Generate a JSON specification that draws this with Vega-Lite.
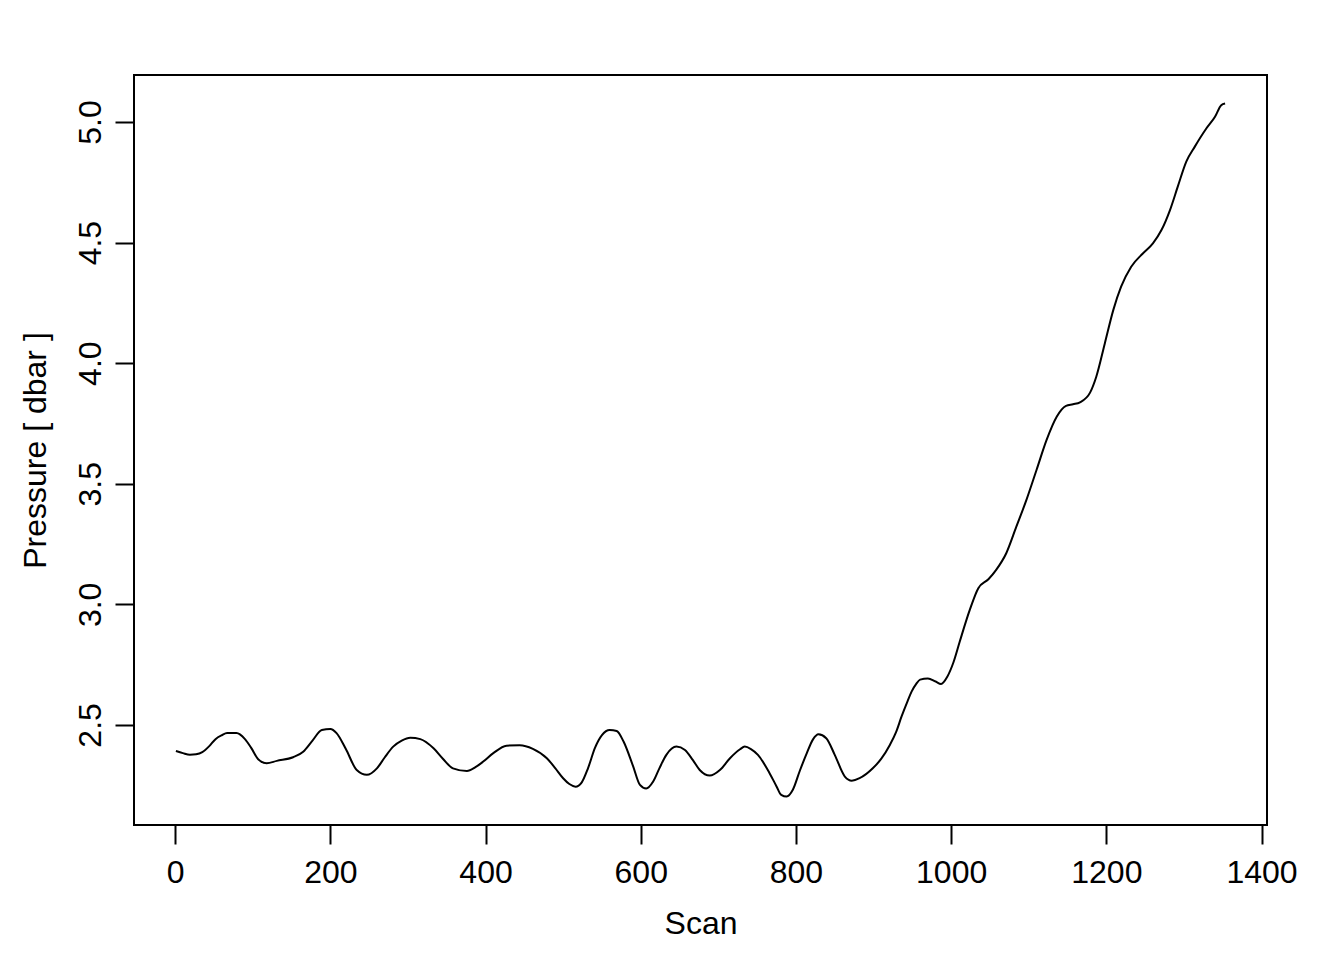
{
  "$schema": "https://vega.github.io/schema/vega-lite/v6.json",
  "autosize": {"type": "none"},
  "width": 1133,
  "height": 750,
  "padding": {"left": 134, "top": 75, "right": 77, "bottom": 135},
  "background": "white",
  "config": {
    "font": "Liberation Sans",
    "view": {"stroke": "black", "strokeWidth": 2}
  },
  "data": {"values": [
    {"scan": 1, "pressure": 2.392},
    {"scan": 10, "pressure": 2.383},
    {"scan": 19, "pressure": 2.376},
    {"scan": 27, "pressure": 2.378},
    {"scan": 35, "pressure": 2.387},
    {"scan": 44, "pressure": 2.412},
    {"scan": 52, "pressure": 2.441},
    {"scan": 60, "pressure": 2.457},
    {"scan": 67, "pressure": 2.466},
    {"scan": 79, "pressure": 2.466},
    {"scan": 90, "pressure": 2.441},
    {"scan": 98, "pressure": 2.405},
    {"scan": 107, "pressure": 2.358},
    {"scan": 118, "pressure": 2.341},
    {"scan": 131, "pressure": 2.351},
    {"scan": 152, "pressure": 2.366},
    {"scan": 165, "pressure": 2.389},
    {"scan": 177, "pressure": 2.435},
    {"scan": 189, "pressure": 2.479},
    {"scan": 200, "pressure": 2.483},
    {"scan": 208, "pressure": 2.466},
    {"scan": 220, "pressure": 2.4},
    {"scan": 234, "pressure": 2.313},
    {"scan": 247, "pressure": 2.293},
    {"scan": 260, "pressure": 2.32},
    {"scan": 270, "pressure": 2.365},
    {"scan": 281, "pressure": 2.41},
    {"scan": 292, "pressure": 2.435},
    {"scan": 303, "pressure": 2.447},
    {"scan": 316, "pressure": 2.441},
    {"scan": 333, "pressure": 2.403},
    {"scan": 345, "pressure": 2.36},
    {"scan": 358, "pressure": 2.32},
    {"scan": 376, "pressure": 2.309},
    {"scan": 387, "pressure": 2.325},
    {"scan": 397, "pressure": 2.348},
    {"scan": 410, "pressure": 2.383},
    {"scan": 427, "pressure": 2.414},
    {"scan": 444, "pressure": 2.416},
    {"scan": 461, "pressure": 2.401},
    {"scan": 479, "pressure": 2.362},
    {"scan": 490, "pressure": 2.32},
    {"scan": 500, "pressure": 2.279},
    {"scan": 508, "pressure": 2.255},
    {"scan": 516, "pressure": 2.244},
    {"scan": 524, "pressure": 2.262},
    {"scan": 532, "pressure": 2.32},
    {"scan": 541, "pressure": 2.405},
    {"scan": 550, "pressure": 2.458},
    {"scan": 560, "pressure": 2.479},
    {"scan": 569, "pressure": 2.475},
    {"scan": 578, "pressure": 2.43},
    {"scan": 590, "pressure": 2.33},
    {"scan": 599, "pressure": 2.251},
    {"scan": 607, "pressure": 2.236},
    {"scan": 616, "pressure": 2.265},
    {"scan": 624, "pressure": 2.32},
    {"scan": 633, "pressure": 2.376},
    {"scan": 646, "pressure": 2.41},
    {"scan": 657, "pressure": 2.396},
    {"scan": 667, "pressure": 2.355},
    {"scan": 676, "pressure": 2.313},
    {"scan": 689, "pressure": 2.29},
    {"scan": 702, "pressure": 2.313},
    {"scan": 715, "pressure": 2.362},
    {"scan": 728, "pressure": 2.399},
    {"scan": 734, "pressure": 2.41},
    {"scan": 742, "pressure": 2.4},
    {"scan": 751, "pressure": 2.376},
    {"scan": 766, "pressure": 2.3},
    {"scan": 775, "pressure": 2.245},
    {"scan": 781, "pressure": 2.21},
    {"scan": 788, "pressure": 2.203},
    {"scan": 796, "pressure": 2.231},
    {"scan": 805, "pressure": 2.31},
    {"scan": 814, "pressure": 2.383},
    {"scan": 822, "pressure": 2.44},
    {"scan": 829, "pressure": 2.461},
    {"scan": 839, "pressure": 2.445},
    {"scan": 850, "pressure": 2.376},
    {"scan": 863, "pressure": 2.286},
    {"scan": 872, "pressure": 2.269},
    {"scan": 882, "pressure": 2.279},
    {"scan": 899, "pressure": 2.32},
    {"scan": 910, "pressure": 2.36},
    {"scan": 921, "pressure": 2.417},
    {"scan": 929, "pressure": 2.47},
    {"scan": 936, "pressure": 2.534},
    {"scan": 944, "pressure": 2.6},
    {"scan": 949, "pressure": 2.638},
    {"scan": 955, "pressure": 2.67},
    {"scan": 960, "pressure": 2.688},
    {"scan": 970, "pressure": 2.693},
    {"scan": 980, "pressure": 2.68},
    {"scan": 987, "pressure": 2.67},
    {"scan": 995, "pressure": 2.7},
    {"scan": 1003, "pressure": 2.76},
    {"scan": 1011, "pressure": 2.845},
    {"scan": 1024, "pressure": 2.977},
    {"scan": 1035, "pressure": 3.067},
    {"scan": 1048, "pressure": 3.104},
    {"scan": 1058, "pressure": 3.143},
    {"scan": 1071, "pressure": 3.212},
    {"scan": 1084, "pressure": 3.322},
    {"scan": 1097, "pressure": 3.433},
    {"scan": 1110, "pressure": 3.557},
    {"scan": 1123, "pressure": 3.682},
    {"scan": 1136, "pressure": 3.778},
    {"scan": 1148, "pressure": 3.823},
    {"scan": 1157, "pressure": 3.83},
    {"scan": 1166, "pressure": 3.838},
    {"scan": 1179, "pressure": 3.878},
    {"scan": 1187, "pressure": 3.944},
    {"scan": 1198, "pressure": 4.082},
    {"scan": 1209, "pressure": 4.221},
    {"scan": 1219, "pressure": 4.317},
    {"scan": 1232, "pressure": 4.4},
    {"scan": 1247, "pressure": 4.455},
    {"scan": 1260, "pressure": 4.497},
    {"scan": 1271, "pressure": 4.552},
    {"scan": 1282, "pressure": 4.635},
    {"scan": 1292, "pressure": 4.732},
    {"scan": 1303, "pressure": 4.836},
    {"scan": 1314, "pressure": 4.898},
    {"scan": 1329, "pressure": 4.974},
    {"scan": 1340, "pressure": 5.022},
    {"scan": 1348, "pressure": 5.07},
    {"scan": 1353, "pressure": 5.077}
  ]},
  "mark": {"type": "line", "color": "black", "strokeWidth": 2, "interpolate": "monotone"},
  "encoding": {
    "x": {
      "field": "scan", "type": "quantitative",
      "scale": {"domain": [-53, 1407], "nice": false, "zero": false},
      "axis": {
        "title": "Scan",
        "values": [0, 200, 400, 600, 800, 1000, 1200, 1400],
        "format": "d",
        "domain": false, "grid": false,
        "ticks": true, "tickSize": 19, "tickColor": "black", "tickWidth": 2,
        "labelFont": "Liberation Sans", "labelFontSize": 32, "labelColor": "black",
        "labelPadding": 13, "labelFlush": false, "labelOverlap": false,
        "titleFont": "Liberation Sans", "titleFontSize": 32, "titleFontWeight": "normal", "titleColor": "black",
        "titleBaseline": "alphabetic", "titleY": 108, "titleX": 566.5, "titleAnchor": "middle"
      }
    },
    "y": {
      "field": "pressure", "type": "quantitative",
      "scale": {"domain": [2.085, 5.195], "nice": false, "zero": false},
      "axis": {
        "title": "Pressure [ dbar ]",
        "values": [2.5, 3.0, 3.5, 4.0, 4.5, 5.0],
        "format": ".1f",
        "domain": false, "grid": false,
        "ticks": true, "tickSize": 19, "tickColor": "black", "tickWidth": 2,
        "labelFont": "Liberation Sans", "labelFontSize": 32, "labelColor": "black",
        "labelAngle": -90, "labelAlign": "center", "labelBaseline": "bottom",
        "labelPadding": 8, "labelFlush": false, "labelOverlap": false,
        "titleFont": "Liberation Sans", "titleFontSize": 32, "titleFontWeight": "normal", "titleColor": "black",
        "titleAngle": -90, "titleBaseline": "alphabetic", "titleX": -89, "titleY": 375, "titleAlign": "center"
      }
    }
  }
}
